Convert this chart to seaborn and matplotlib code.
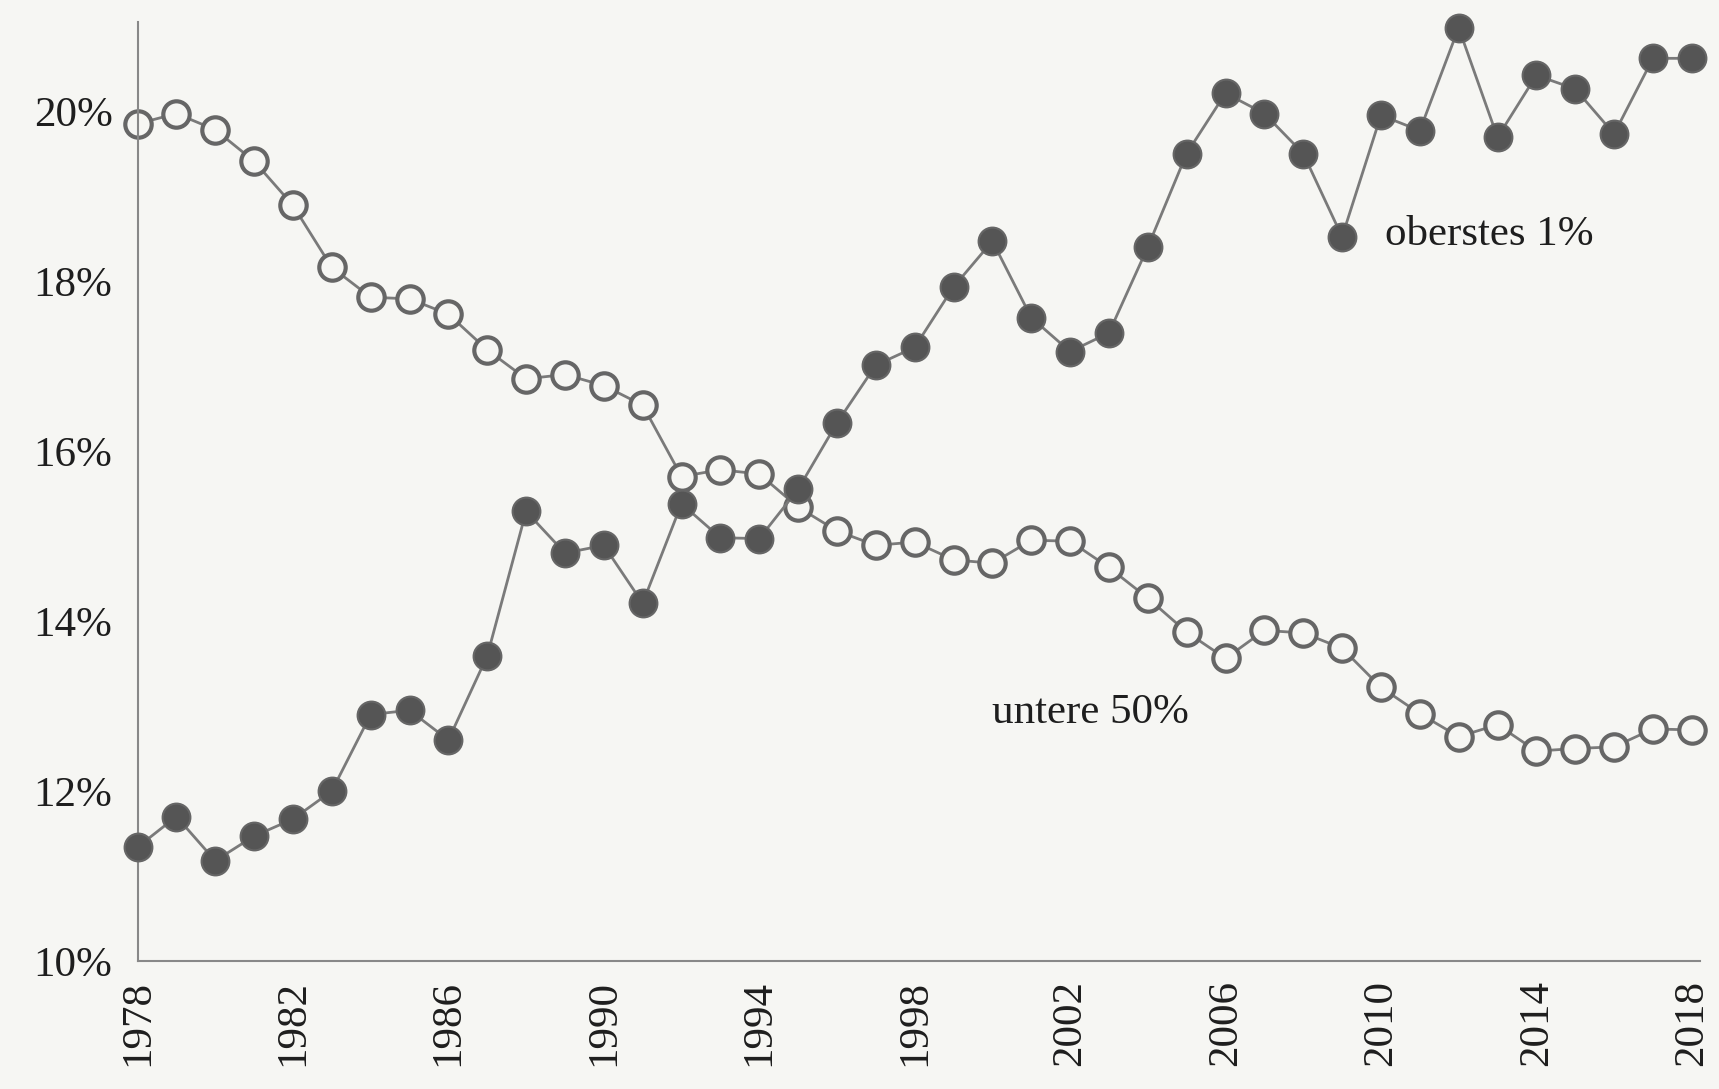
import matplotlib
matplotlib.use("Agg")
import matplotlib.pyplot as plt
import pandas as pd
import seaborn as sns

years = list(range(1978, 2019))

# Anteil am Nationaleinkommen (%)
top1 = [11.34, 11.70, 11.18, 11.47, 11.67, 12.00, 12.90, 12.95, 12.60, 13.59,
        15.29, 14.80, 14.89, 14.21, 15.38, 14.98, 14.97, 15.55, 16.33, 17.01,
        17.22, 17.93, 18.47, 17.57, 17.17, 17.39, 18.40, 19.50, 20.21, 19.97,
        19.50, 18.52, 19.95, 19.77, 20.98, 19.69, 20.42, 20.26, 19.73, 20.62,
        20.62]
bottom50 = [19.85, 19.97, 19.78, 19.41, 18.89, 18.16, 17.81, 17.79, 17.61, 17.19,
            16.85, 16.90, 16.77, 16.54, 15.70, 15.78, 15.73, 15.34, 15.06, 14.89,
            14.93, 14.72, 14.68, 14.95, 14.94, 14.63, 14.27, 13.87, 13.56, 13.89,
            13.86, 13.68, 13.22, 12.91, 12.64, 12.78, 12.47, 12.50, 12.52, 12.73,
            12.72]

xticks = list(range(1978, 2019, 4))
yticks = [10, 12, 14, 16, 18, 20]

df = pd.DataFrame({"Jahr": years, "oberstes 1%": top1, "untere 50%": bottom50})

sns.set_style("white")
plt.rcParams['font.family'] = ['Liberation Serif', 'DejaVu Serif']
bg = "#f6f6f3"

fig = plt.figure(figsize=(17.19, 10.89), dpi=100, facecolor=bg)
ax = fig.add_axes([0.080, 0.1175, 0.9087, 0.8625], facecolor=bg)

sns.lineplot(data=df, x="Jahr", y="untere 50%", ax=ax, color="#7a7a7a", linewidth=2,
             marker="o", markersize=19, markerfacecolor=bg, markeredgecolor="#666666",
             markeredgewidth=3, zorder=2, clip_on=False)
sns.lineplot(data=df, x="Jahr", y="oberstes 1%", ax=ax, color="#7a7a7a", linewidth=2,
             marker="o", markersize=20, markerfacecolor="#555555", markeredgecolor="#666666",
             markeredgewidth=1.5, zorder=3, clip_on=False)

ax.set_xlim(1978, 2018.2)
ax.set_ylim(10, 21.05)
ax.set_xticks(xticks)
ax.set_xticklabels([str(y) for y in xticks], rotation=90)
ax.set_yticks(yticks)
ax.set_yticklabels([f"{v}%" for v in yticks])
ax.tick_params(axis="both", length=0, labelsize=31, colors="#1e1e1e")
ax.tick_params(axis="y", pad=18)
ax.tick_params(axis="x", pad=14)
ax.set_xlabel(None)
ax.set_ylabel(None)

for side in ["top", "right"]:
    ax.spines[side].set_visible(False)
for side in ["left", "bottom"]:
    ax.spines[side].set_color("#888888")
    ax.spines[side].set_linewidth(1.5)

ax.text(2010.1, 18.55, "oberstes 1%", fontsize=31, color="#1e1e1e", va="center", ha="left")
ax.text(2000.0, 12.92, "untere 50%", fontsize=31, color="#1e1e1e", va="center", ha="left")

fig.savefig("out.png", dpi=100, facecolor=bg)
